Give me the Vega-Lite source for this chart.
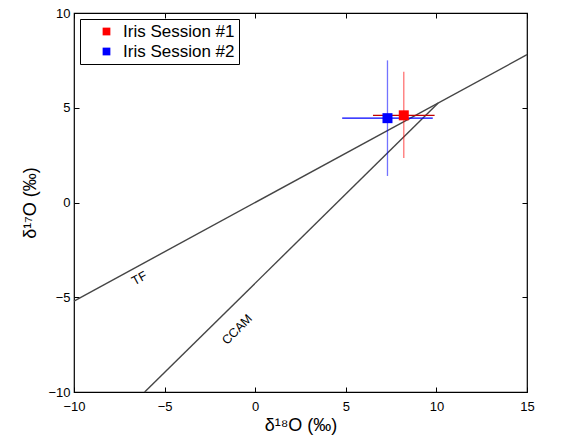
{
  "$schema": "https://vega.github.io/schema/vega-lite/v6.json",
  "width": 453,
  "height": 379,
  "autosize": {"type": "none"},
  "padding": {"left": 74, "top": 13, "right": 40, "bottom": 46},
  "background": "white",
  "config": {
    "view": {"stroke": "black", "strokeWidth": 1.2},
    "font": "Liberation Sans",
    "axis": {
      "grid": false,
      "domain": false,
      "tickSize": -5,
      "tickColor": "black",
      "tickWidth": 1,
      "labelFont": "Liberation Sans",
      "labelFontSize": 13,
      "labelColor": "black",
      "labelFlush": false,
      "labelOverlap": false,
      "titleFont": "Liberation Sans",
      "titleFontSize": 18,
      "titleFontWeight": "normal",
      "titleColor": "black"
    },
    "legend": {
      "labelFont": "Liberation Sans",
      "labelFontSize": 17,
      "labelColor": "black"
    }
  },
  "datasets": {
    "lines": [
      {"line": "TF", "x": -10, "y": -5.2},
      {"line": "TF", "x": 15, "y": 7.8},
      {"line": "CCAM", "x": -6.1, "y": -10},
      {"line": "CCAM", "x": 10.1, "y": 5.25}
    ],
    "points": [
      {"session": "Iris Session #1", "x": 8.2, "y": 4.6, "xlo": 6.5, "xhi": 9.9, "ylo": 2.35, "yhi": 6.9},
      {"session": "Iris Session #2", "x": 7.3, "y": 4.45, "xlo": 4.8, "xhi": 9.8, "ylo": 1.4, "yhi": 7.5}
    ],
    "labels": [
      {"label": "TF", "x": -6.4, "y": -4.0},
      {"label": "CCAM", "x": -1.0, "y": -6.7}
    ]
  },
  "layer": [
    {
      "data": {"name": "lines"},
      "mark": {"type": "line", "color": "#454545", "strokeWidth": 1.4},
      "encoding": {
        "x": {"field": "x", "type": "quantitative", "scale": {"domain": [-10, 15], "nice": false, "zero": false},
              "axis": {"values": [-10, -5, 0, 5, 10, 15], "title": "δ¹⁸O (‰)", "labelPadding": 13, "titlePadding": 3}},
        "y": {"field": "y", "type": "quantitative", "scale": {"domain": [-10, 10], "nice": false, "zero": false},
              "axis": {"values": [-10, -5, 0, 5, 10], "title": "δ¹⁷O (‰)", "labelPadding": 9, "titlePadding": 8}},
        "detail": {"field": "line"}
      }
    },
    {
      "data": {"name": "points"},
      "mark": {"type": "rule", "strokeWidth": 1.3, "opacity": 0.55},
      "encoding": {
        "x": {"field": "x", "type": "quantitative", "axis": null},
        "y": {"field": "ylo", "type": "quantitative", "axis": null},
        "y2": {"field": "yhi"},
        "color": {"field": "session", "type": "nominal", "scale": {"domain": ["Iris Session #1", "Iris Session #2"], "range": ["#ff0000", "#0000ff"]}, "legend": null}
      }
    },
    {
      "data": {"name": "points"},
      "mark": {"type": "rule", "strokeWidth": 1.3},
      "encoding": {
        "x": {"field": "xlo", "type": "quantitative", "axis": null},
        "x2": {"field": "xhi"},
        "y": {"field": "y", "type": "quantitative", "axis": null},
        "color": {"field": "session", "type": "nominal", "scale": {"domain": ["Iris Session #1", "Iris Session #2"], "range": ["#c00000", "#0000ff"]}, "legend": null}
      }
    },
    {
      "data": {"name": "points"},
      "mark": {"type": "point", "shape": "square", "filled": true, "size": 100, "opacity": 1},
      "encoding": {
        "x": {"field": "x", "type": "quantitative", "axis": null},
        "y": {"field": "y", "type": "quantitative", "axis": null},
        "color": {
          "field": "session", "type": "nominal",
          "scale": {"domain": ["Iris Session #1", "Iris Session #2"], "range": ["#ff0000", "#0000ff"]},
          "legend": {
            "title": null, "orient": "none", "legendX": 6, "legendY": 6,
            "strokeColor": "black", "fillColor": "white", "padding": 4,
            "symbolType": "square", "symbolSize": 60, "symbolStrokeWidth": 0,
            "symbolOffset": 14,
            "rowPadding": 2, "labelOffset": 8, "offset": 0
          }
        }
      }
    },
    {
      "data": {"name": "labels"},
      "transform": [{"filter": "datum.label === 'TF'"}],
      "mark": {"type": "text", "angle": 331.5, "fontSize": 12.5, "font": "Liberation Sans", "color": "black"},
      "encoding": {
        "x": {"field": "x", "type": "quantitative", "axis": null},
        "y": {"field": "y", "type": "quantitative", "axis": null},
        "text": {"field": "label"}
      }
    },
    {
      "data": {"name": "labels"},
      "transform": [{"filter": "datum.label === 'CCAM'"}],
      "mark": {"type": "text", "angle": 315, "fontSize": 12.5, "font": "Liberation Sans", "color": "black"},
      "encoding": {
        "x": {"field": "x", "type": "quantitative",
              "axis": {"orient": "top", "values": [-10, -5, 0, 5, 10, 15], "labels": false, "title": null}},
        "y": {"field": "y", "type": "quantitative",
              "axis": {"orient": "right", "values": [-10, -5, 0, 5, 10], "labels": false, "title": null}},
        "text": {"field": "label"}
      }
    }
  ],
  "resolve": {"axis": {"x": "independent", "y": "independent"}, "scale": {"color": "independent"}}
}
